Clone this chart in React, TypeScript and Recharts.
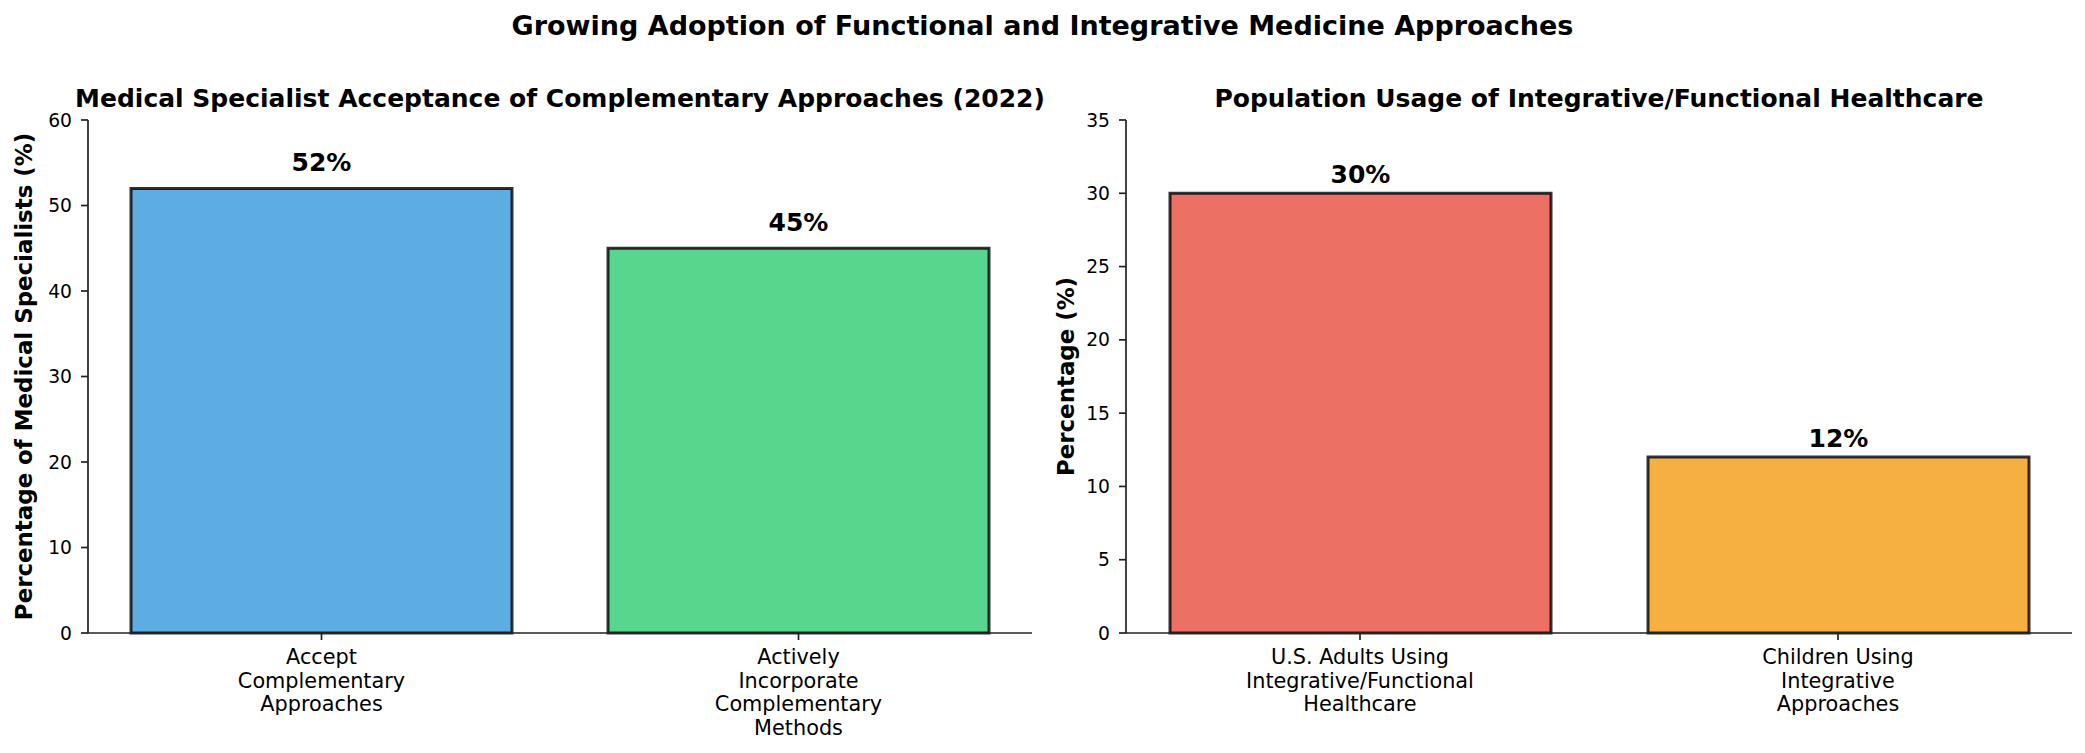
import { Bar, BarChart, Cell, Label, LabelList, XAxis, YAxis } from 'recharts'

const FONT = '"DejaVu Sans", sans-serif'
const INK = '#222'

const suptitle = 'Growing Adoption of Functional and Integrative Medicine Approaches'

// left panel: specialist acceptance
const specialistTitle = 'Medical Specialist Acceptance of Complementary Approaches (2022)'
const specialistAxisLabel = 'Percentage of Medical Specialists (%)'
const specialistCategories = [
  'Accept\nComplementary\nApproaches',
  'Actively\nIncorporate\nComplementary\nMethods',
]
const specialistValues = [52, 45]
const specialistColors = ['#3498db', '#2ecc71']
const specialistTicks = [0, 10, 20, 30, 40, 50, 60]

// right panel: population usage
const usageTitle = 'Population Usage of Integrative/Functional Healthcare'
const usageAxisLabel = 'Percentage (%)'
const usageCategories = [
  'U.S. Adults Using\nIntegrative/Functional\nHealthcare',
  'Children Using\nIntegrative\nApproaches',
]
const usageValues = [30, 12]
const usageColors = ['#e74c3c', '#f39c12']
const usageTicks = [0, 5, 10, 15, 20, 25, 30, 35]

const MultiLineTick = ({ x, y, payload }: any) => {
  const lines = String(payload.value).split('\n')
  return (
    <text x={x} y={y} textAnchor="middle" fontSize={20.8} fill="#000">
      {lines.map((line, i) => (
        <tspan key={i} x={x} dy={i === 0 ? 24 : 23.5}>
          {line}
        </tspan>
      ))}
    </text>
  )
}

interface PanelProps {
  left: number
  width: number
  axisWidth: number
  rightMargin: number
  categories: string[]
  values: number[]
  colors: string[]
  ticks: number[]
  yLabel: string
  yLabelX: number
  valueOffset: number
}

const Panel = ({
  left,
  width,
  axisWidth,
  rightMargin,
  categories,
  values,
  colors,
  ticks,
  yLabel,
  yLabelX,
  valueOffset,
}: PanelProps) => {
  const data = categories.map((name, i) => ({ name, value: values[i] }))
  const top = ticks[ticks.length - 1]
  return (
    <div style={{ position: 'absolute', left, top: 0 }}>
      <BarChart
        width={width}
        height={753}
        data={data}
        margin={{ top: 120, right: rightMargin, bottom: 0, left: 0 }}
      >
        <XAxis
          dataKey="name"
          height={120}
          padding={{ left: -5, right: -5 }}
          interval={0}
          tick={<MultiLineTick />}
          tickSize={7}
          tickMargin={0}
          axisLine={{ stroke: INK, strokeWidth: 1.7 }}
          tickLine={{ stroke: INK, strokeWidth: 1.7 }}
        />
        <YAxis
          width={axisWidth}
          domain={[0, top]}
          ticks={ticks}
          interval={0}
          tickSize={7}
          tickMargin={9}
          tick={{ fontSize: 18.7, fill: '#000' }}
          axisLine={{ stroke: INK, strokeWidth: 1.7 }}
          tickLine={{ stroke: INK, strokeWidth: 1.7 }}
        >
          <Label
            content={({ viewBox }: any) => {
              const cy = viewBox.y + viewBox.height / 2
              const x = viewBox.x + yLabelX
              return (
                <text
                  x={x}
                  y={cy}
                  transform={`rotate(-90 ${x} ${cy})`}
                  textAnchor="middle"
                  fontSize={22.9}
                  fontWeight="bold"
                  fill="#000"
                >
                  {yLabel}
                </text>
              )
            }}
          />
        </YAxis>
        <Bar
          dataKey="value"
          isAnimationActive={false}
          barSize={381}
          stroke="#000"
          strokeOpacity={0.8}
          strokeWidth={3}
        >
          {data.map((d, i) => (
            <Cell key={d.name} fill={colors[i]} fillOpacity={0.8} />
          ))}
          <LabelList
            dataKey="value"
            content={({ x, y, width: w, value }: any) => (
              <text
                x={x + w / 2}
                y={y - valueOffset}
                textAnchor="middle"
                fontSize={25}
                fontWeight="bold"
                fill="#000"
              >
                {`${value}%`}
              </text>
            )}
          />
        </Bar>
      </BarChart>
    </div>
  )
}

export default function App() {
  return (
    <div
      style={{
        position: 'absolute',
        left: 0,
        top: 0,
        width: 2085,
        height: 753,
        background: '#fff',
        fontFamily: FONT,
      }}
    >
      <Panel
        left={0}
        width={1040}
        axisWidth={88}
        rightMargin={8}
        categories={specialistCategories}
        values={specialistValues}
        colors={specialistColors}
        ticks={specialistTicks}
        yLabel={specialistAxisLabel}
        yLabelX={32}
        valueOffset={17}
      />
      <Panel
        left={1040}
        width={1045}
        axisWidth={86}
        rightMargin={13}
        categories={usageCategories}
        values={usageValues}
        colors={usageColors}
        ticks={usageTicks}
        yLabel={usageAxisLabel}
        yLabelX={34}
        valueOffset={10}
      />
      <svg
        width={2085}
        height={753}
        style={{ position: 'absolute', left: 0, top: 0, pointerEvents: 'none' }}
      >
        <text x={1042.5} y={35} textAnchor="middle" fontSize={27} fontWeight="bold" fill="#000">
          {suptitle}
        </text>
        <text x={560} y={107} textAnchor="middle" fontSize={25} fontWeight="bold" fill="#000">
          {specialistTitle}
        </text>
        <text x={1599} y={107} textAnchor="middle" fontSize={25} fontWeight="bold" fill="#000">
          {usageTitle}
        </text>
      </svg>
    </div>
  )
}
